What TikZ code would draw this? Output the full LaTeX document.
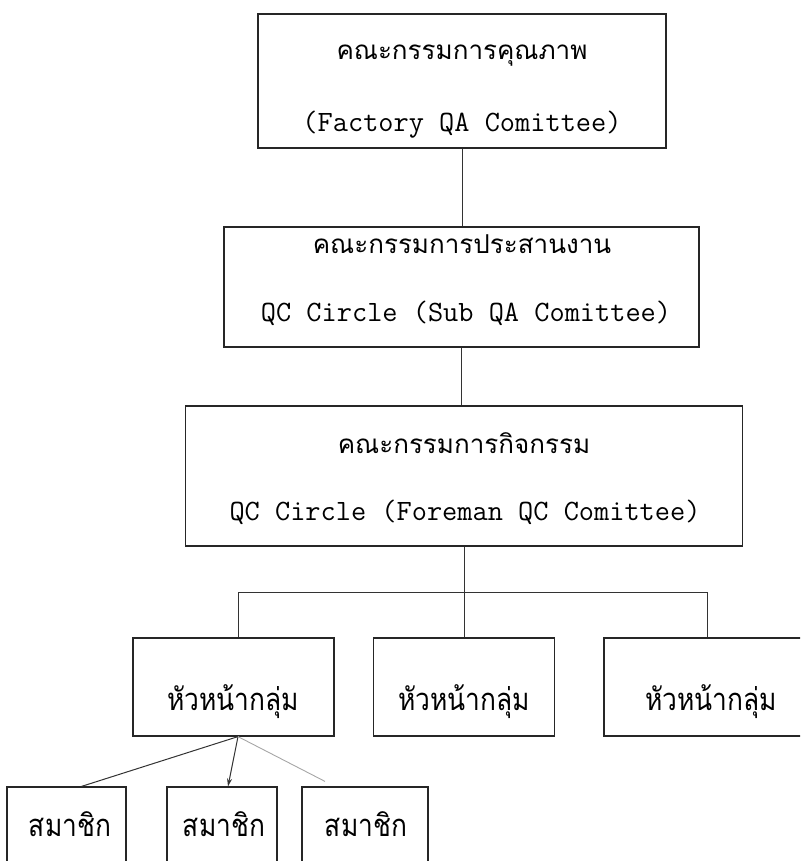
\documentclass[tikz,border=0pt]{standalone}
\usepackage{fontspec}
\newfontfamily\thaifont[Script=Thai]{Loma}
\newfontfamily\thainarrow[Script=Thai,FakeStretch=0.85]{Loma}
\usetikzlibrary{arrows.meta}
\begin{document}
\begin{tikzpicture}[x=1pt,y=-1pt,
  box/.style={draw=black!85, line width=1.2pt, inner sep=0pt},
  link/.style={draw=black!80, line width=1pt},
  faint/.style={draw=black!35, line width=0.9pt},
  thtop/.style={font=\thaifont\fontsize{26}{30}\selectfont, inner sep=0pt, anchor=base},
  thlow/.style={font=\thainarrow\fontsize{31}{36}\selectfont, inner sep=0pt, anchor=base},
  entxt/.style={font=\ttfamily\fontsize{29.5}{32}\selectfont, inner sep=0pt, anchor=base}]
\useasboundingbox (0,0) rectangle (800,861);
\clip (0,0) rectangle (800,861);

% committee boxes
\node[box, minimum width=408pt, minimum height=134pt] (qa) at (462,81) {};
\node[thtop] (qath) at (462,60) {คณะกรรมการคุณภาพ};
\node[entxt] (qaen) at (462,132) {(Factory QA Comittee)};

\node[box, minimum width=475pt, minimum height=120pt] (sub) at (461.5,287) {};
\node[thtop] (subth) at (462,253) {คณะกรรมการประสานงาน};
\node[entxt] (suben) at (466,321) {QC Circle (Sub QA Comittee)};

\node[box, minimum width=557pt, minimum height=140pt] (act) at (464,476) {};
\node[thtop] (actth) at (464,453) {คณะกรรมการกิจกรรม};
\node[entxt] (acten) at (465,520) {QC Circle (Foreman QC Comittee)};

% group leaders
\node[box, minimum width=201pt, minimum height=98pt] (ha) at (233.5,687) {};
\node[box, minimum width=181pt, minimum height=98pt] (hb) at (464,687) {};
\node[box, minimum width=214pt, minimum height=98pt] (hc) at (711,687) {};
\node[thlow] (hath) at (233,710) {หัวหน้ากลุ่ม};
\node[thlow] (hbth) at (464,710) {หัวหน้ากลุ่ม};
\node[thlow] (hcth) at (711,710) {หัวหน้ากลุ่ม};

% members
\node[box, minimum width=119pt, minimum height=113pt] (m1) at (66.5,843.5) {};
\node[box, minimum width=110pt, minimum height=113pt] (m2) at (222,843.5) {};
\node[box, minimum width=126pt, minimum height=113pt] (m3) at (365,843.5) {};
\node[thlow] (m1th) at (70,836) {สมาชิก};
\node[thlow] (m2th) at (224,836) {สมาชิก};
\node[thlow] (m3th) at (366,836) {สมาชิก};

% connectors
\draw[link] (qa.south) -- (qa.south |- sub.north);
\draw[link] (sub.south) -- (sub.south |- act.north);
\coordinate (busL) at (238,592);
\coordinate (busR) at (707,592);
\draw[link] (act.south) -- (hb.north);
\draw[link] (busL |- ha.north) -- (busL) -- (busR) -- (busR |- hc.north);
\coordinate (hub) at (busL |- ha.south);
\draw[link] (hub) -- ([xshift=15pt]m1.north);
\draw[link, -{Stealth[length=8pt,width=5pt]}] (hub) -- ([xshift=6pt]m2.north);
\draw[faint] (hub) -- ([xshift=-40pt,yshift=5pt]m3.north);
\end{tikzpicture}
\end{document}
